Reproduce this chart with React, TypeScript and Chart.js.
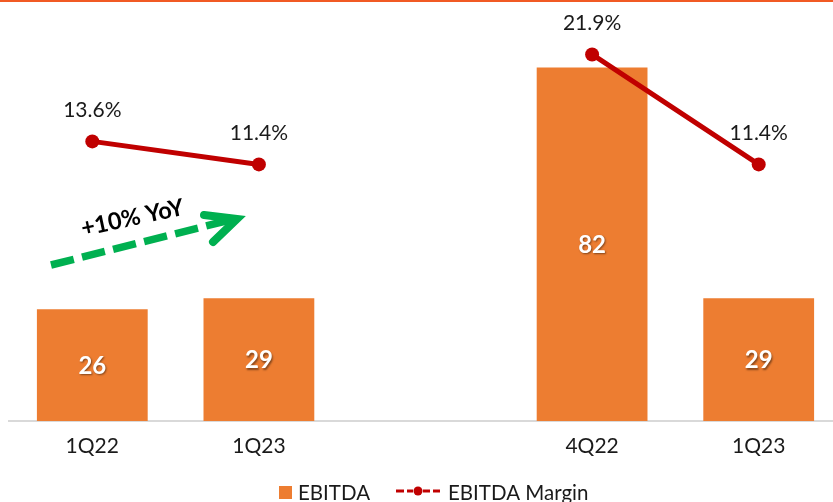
import React, { useEffect, useRef } from 'react';
import { Chart, registerables } from 'chart.js';

Chart.register(...registerables);

const categories = ['1Q22', '1Q23', '', '4Q22', '1Q23'];
const ebitda: (number | null)[] = [26.0, 28.6, null, 82.3, 28.6];
const ebitdaMargin: (number | null)[] = [13.6, 11.4, null, 21.9, 11.4];
const yoyText = '+10% YoY';
const legendNames = ['EBITDA', 'EBITDA Margin'];

const FONT = 'Lato, "Open Sans", sans-serif';
const ORANGE = '#ED7D31';
const RED = '#C00000';
const GREEN = '#00B050';
const TEXT = '#1a1a1a';

const decorations = {
  id: 'decorations',
  afterDatasetsDraw(chart: any) {
    const ctx = chart.ctx as CanvasRenderingContext2D;
    // bar value labels
    const barMeta = chart.getDatasetMeta(0);
    ctx.save();
    ctx.font = `bold 24px ${FONT}`;
    ctx.fillStyle = '#ffffff';
    ctx.textAlign = 'center';
    ctx.textBaseline = 'middle';
    ctx.shadowColor = 'rgba(0,0,0,0.45)';
    ctx.shadowOffsetX = 1;
    ctx.shadowOffsetY = 1.5;
    ctx.shadowBlur = 2;
    barMeta.data.forEach((bar: any, i: number) => {
      const v = ebitda[i];
      if (v == null) return;
      const p = bar.getProps(['x', 'y', 'base'], true);
      ctx.fillText(String(Math.round(v)), p.x, (p.y + p.base) / 2 + 1);
    });
    ctx.restore();

    // margin labels
    const lineMeta = chart.getDatasetMeta(1);
    ctx.save();
    ctx.font = `21px ${FONT}`;
    ctx.fillStyle = TEXT;
    ctx.textAlign = 'center';
    ctx.textBaseline = 'middle';
    lineMeta.data.forEach((pt: any, i: number) => {
      const v = ebitdaMargin[i];
      if (v == null) return;
      ctx.fillText(v.toFixed(1) + '%', pt.x, pt.y - 31);
    });
    ctx.restore();
  },
  afterDraw(chart: any) {
    const ctx = chart.ctx as CanvasRenderingContext2D;
    ctx.save();
    // top rule
    ctx.fillStyle = '#F15A24';
    ctx.fillRect(0, 0, 842, 2);

    // green dashed arrow
    ctx.strokeStyle = GREEN;
    ctx.lineWidth = 7.5;
    ctx.lineCap = 'butt';
    ctx.setLineDash([23.5, 8.5]);
    ctx.beginPath();
    ctx.moveTo(51, 265);
    ctx.lineTo(228, 220.5);
    ctx.stroke();
    ctx.setLineDash([]);
    ctx.lineCap = 'round';
    ctx.lineJoin = 'miter';
    ctx.lineWidth = 8;
    ctx.beginPath();
    ctx.moveTo(204, 215);
    ctx.lineTo(237, 219);
    ctx.lineTo(213, 242);
    ctx.stroke();

    // YoY text
    ctx.save();
    ctx.translate(132.5, 218);
    ctx.rotate((-12 * Math.PI) / 180);
    ctx.font = `bold 23.5px ${FONT}`;
    ctx.fillStyle = '#000';
    ctx.textAlign = 'center';
    ctx.textBaseline = 'middle';
    ctx.fillText(yoyText, 0, 0);
    ctx.restore();

    // legend
    const ly = 492;
    ctx.fillStyle = ORANGE;
    ctx.fillRect(279, 486, 13, 13);
    ctx.font = `20.5px ${FONT}`;
    ctx.fillStyle = TEXT;
    ctx.textAlign = 'left';
    ctx.textBaseline = 'middle';
    ctx.fillText(legendNames[0], 298, ly + 1);

    ctx.strokeStyle = RED;
    ctx.lineWidth = 3;
    ctx.lineCap = 'butt';
    const segs = [[396, 404], [407, 413], [423, 430], [433, 440]];
    segs.forEach(([a, b]) => {
      ctx.beginPath();
      ctx.moveTo(a, ly - 1);
      ctx.lineTo(b, ly - 1);
      ctx.stroke();
    });
    ctx.fillStyle = RED;
    ctx.beginPath();
    ctx.arc(418, ly - 1, 4.5, 0, Math.PI * 2);
    ctx.fill();
    ctx.fillStyle = TEXT;
    ctx.fillText(legendNames[1], 448, ly + 1);
    ctx.restore();
  },
};

export default function App() {
  const ref = useRef<HTMLCanvasElement | null>(null);
  useEffect(() => {
    if (!ref.current) return;
    const chart = new Chart(ref.current, {
      type: 'bar',
      data: {
        labels: categories,
        datasets: [
          {
            type: 'bar',
            label: legendNames[0],
            data: ebitda,
            backgroundColor: ORANGE,
            barPercentage: 0.665,
            categoryPercentage: 1,
            yAxisID: 'y',
            order: 1,
          },
          {
            type: 'line',
            label: legendNames[1],
            data: ebitdaMargin,
            borderColor: RED,
            backgroundColor: RED,
            borderWidth: 5,
            pointRadius: 7,
            pointBackgroundColor: RED,
            pointBorderWidth: 0,
            spanGaps: false,
            yAxisID: 'y2',
            order: 0,
          },
        ] as any,
      },
      options: {
        animation: false,
        responsive: false,
        maintainAspectRatio: false,
        devicePixelRatio: 1,
        layout: { autoPadding: false, padding: { left: 9, right: 0, top: 0, bottom: 36 } },
        plugins: {
          legend: { display: false },
          tooltip: { enabled: false },
        },
        scales: {
          x: {
            grid: { display: false },
            border: { display: true, color: '#D9D9D9', width: 2 },
            ticks: {
              font: { family: FONT, size: 21 },
              color: TEXT,
              padding: 5,
              maxRotation: 0,
              autoSkip: false,
            },
            afterFit: (scale: any) => {
              scale.height = 45;
            },
          },
          y: { display: false, min: 0, max: 98 },
          y2: { display: false, min: -13.1, max: 27.1 },
        },
      },
      plugins: [decorations],
    });
    return () => chart.destroy();
  }, []);

  return (
    <div style={{ position: 'fixed', left: 0, top: 0, width: 833, height: 502, overflow: 'hidden', background: '#fff' }}>
      <canvas ref={ref} width={842} height={502} style={{ display: 'block', width: 842, height: 502 }} />
    </div>
  );
}
